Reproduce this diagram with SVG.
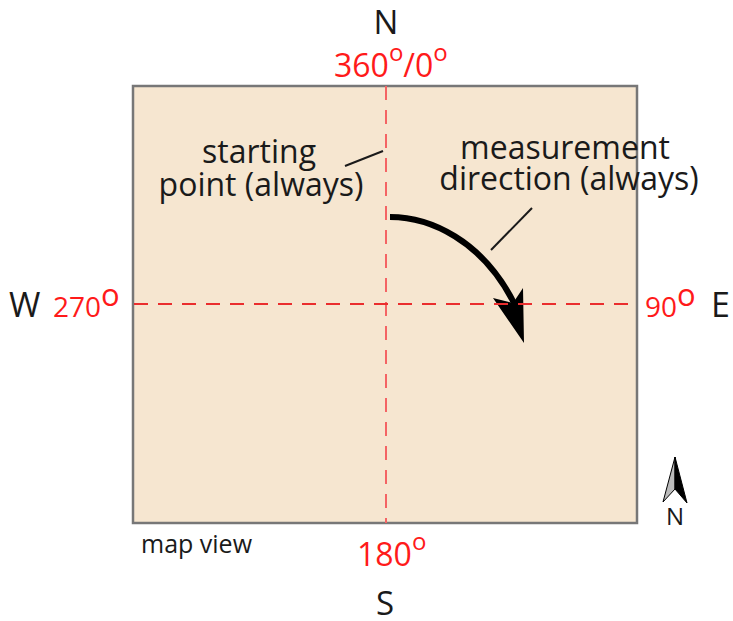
<svg xmlns="http://www.w3.org/2000/svg" width="733" height="621" viewBox="0 0 733 621">
  <style>
    .lbl { font-family: "Open Sans", "Liberation Sans", sans-serif; fill: #1a1a1a; }
    .red { font-family: "Open Sans", "Liberation Sans", sans-serif; fill: #ff1a1a; }
    .dash { stroke-width: 2; stroke-dasharray: 14 10; fill: none; }
    .leader { stroke: #1a1a1a; stroke-width: 2; fill: none; }
  </style>
  <rect x="0" y="0" width="733" height="621" fill="#ffffff"/>
  <g id="map">
    <rect x="133" y="86" width="504" height="437" fill="#f6e6d0" stroke="#777777" stroke-width="2.5"/>
  </g>
  <g id="connectors">
    <path d="M390,217 C430,217 482,240 514,303" stroke="#000" stroke-width="6" fill="none"/>
    <polygon points="524,343 493,298 513,303 523,288" fill="#000"/>
    <line class="leader" x1="345" y1="166" x2="383" y2="151"/>
    <line class="leader" x1="491" y1="250" x2="532" y2="208"/>
    <line class="dash" x1="386" y1="86" x2="386" y2="523" stroke="#f46464"/>
    <line class="dash" x1="134" y1="304" x2="637" y2="304" stroke="#ea2e2e"/>
  </g>
  <g id="labels">
    <text class="lbl" x="386" y="34" font-size="33" text-anchor="middle">N</text>
    <text class="lbl" x="385" y="615" font-size="33" text-anchor="middle">S</text>
    <text class="lbl" x="9" y="317" font-size="34">W</text>
    <text class="lbl" x="711" y="317" font-size="34">E</text>
    <text class="red" x="334" y="77" font-size="32">360<tspan font-size="24" dy="-16">o</tspan><tspan dy="16">/0</tspan><tspan font-size="24" dy="-16">o</tspan></text>
    <text class="red" x="357" y="566" font-size="32">180<tspan font-size="24" dy="-16">o</tspan></text>
    <text class="red" x="53" y="317" font-size="28">270<tspan font-size="31" dy="-11">o</tspan></text>
    <text class="red" x="645" y="317" font-size="28">90<tspan font-size="31" dy="-11">o</tspan></text>
    <text class="lbl" x="141" y="553" font-size="25">map view</text>
  </g>
  <g id="starting-point">
    <text class="lbl" font-size="32" text-anchor="middle"><tspan x="259" y="163">starting</tspan><tspan x="261" y="196">point (always)</tspan></text>
  </g>
  <g id="measurement-direction">
    <text class="lbl" font-size="32" text-anchor="middle"><tspan x="565" y="159">measurement</tspan><tspan x="569" y="190">direction (always)</tspan></text>
  </g>
  <g id="north-arrow">
    <polygon points="675,457 663,502 675,489" fill="#bbbbbb" stroke="#000" stroke-width="1"/>
    <polygon points="675,457 687,503 675,489" fill="#000" stroke="#000" stroke-width="1"/>
    <text class="lbl" x="675" y="525" font-size="24" text-anchor="middle">N</text>
  </g>
</svg>
